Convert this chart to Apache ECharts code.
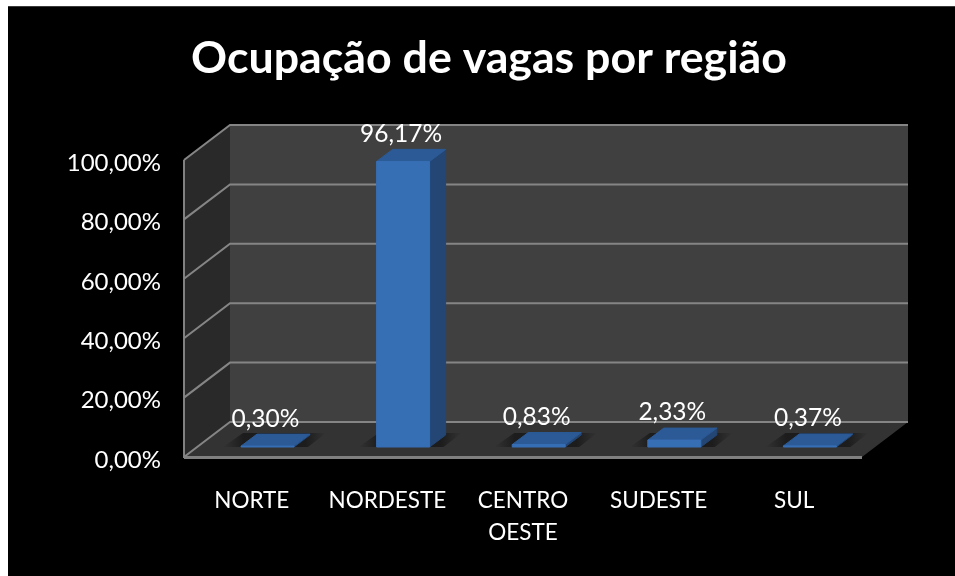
<!DOCTYPE html>
<html><head><meta charset="utf-8">
<style>html,body{margin:0;padding:0;background:#fff;overflow:hidden}
#frame{position:absolute;left:8px;top:6px;right:0;bottom:0;width:947px;height:570px;background:#000;border-top:1px solid #3a3a3a;box-sizing:border-box}
#c{position:absolute;left:0;top:0;width:955px;height:576px}</style>
<script src="https://cdn.jsdelivr.net/npm/echarts@6/dist/echarts.min.js"></script>
</head><body><div id="frame"></div><div id="c"></div>
<script>
const titleText = 'Ocupação de vagas por região';
const categories = ['NORTE', 'NORDESTE', 'CENTRO\nOESTE', 'SUDESTE', 'SUL'];
const values = [0.30, 96.17, 0.83, 2.33, 0.37];
const valueLabels = ['0,30%', '96,17%', '0,83%', '2,33%', '0,37%'];
const yTicks = [0, 20, 40, 60, 80, 100];

const FONT = 'Lato, "Open Sans", sans-serif';
const DEPTH = { x: 46, y: -35 };
const BAR = { dx: 15.7, dy: -10, ox: 16, oy: -12, half: 26.5 };
const poly = (points, fill, extra) => ({ type: 'polygon', shape: { points }, style: Object.assign({ fill }, extra || {}), silent: true });
const facet = (points, fill) => poly(points, fill, { stroke: fill, lineWidth: 1, lineJoin: 'round' });
const shadowFill = new echarts.graphic.LinearGradient(0, 0, 1, 0, [
  { offset: 0, color: 'rgba(26,26,26,0)' },
  { offset: 0.2, color: 'rgba(26,26,26,0.9)' },
  { offset: 0.8, color: 'rgba(26,26,26,0.9)' },
  { offset: 1, color: 'rgba(26,26,26,0)' }
]);

const chart = echarts.init(document.getElementById('c'), null, { renderer: 'canvas' });
chart.setOption({
  backgroundColor: 'transparent',
  animation: false,
  title: { text: titleText, left: 484, top: 31, textAlign: 'center',
    textStyle: { color: '#fff', fontFamily: FONT, fontWeight: 'bold', fontSize: 44.7 } },
  grid: { left: 184, width: 678, top: 160, height: 297, containLabel: false },
  xAxis: { type: 'category', data: categories,
    axisLine: { show: false }, axisTick: { show: false }, splitLine: { show: false },
    axisLabel: { color: '#fff', fontFamily: FONT, fontSize: 22.5, lineHeight: 32, margin: 28, interval: 0 } },
  yAxis: { type: 'value', min: 0, max: 100, interval: 20,
    axisLine: { show: false }, axisTick: { show: false }, splitLine: { show: false },
    axisLabel: { color: '#fff', fontFamily: FONT, fontSize: 24, margin: 23, verticalAlign: 'top', lineHeight: 6,
      formatter: v => v.toFixed(2).replace('.', ',') + '%' } },
  series: [
    { // walls and floor
      type: 'custom', silent: true, z: 1, data: [0], coordinateSystem: 'cartesian2d',
      renderItem(params, api) {
        const a = api.coord([0, 0]), top = api.coord([0, 100]);
        const cs = params.coordSys, L = cs.x, R = cs.x + cs.width, B = a[1], T = top[1];
        const d = DEPTH;
        return { type: 'group', children: [
          poly([[L + d.x, B + d.y], [R + d.x, B + d.y], [R + d.x, T + d.y], [L + d.x, T + d.y]], '#404040'),
          poly([[L, B], [L + d.x, B + d.y], [L + d.x, T + d.y], [L, T]], '#292929'),
          poly([[L, B], [R, B], [R + d.x, B + d.y], [L + d.x, B + d.y]], '#333333'),
          { type: 'rect', shape: { x: L, y: B - 1, width: R - L, height: 3 }, style: { fill: '#808080' }, silent: true },
          { type: 'rect', shape: { x: L - 1, y: T, width: 2, height: B - T + 1 }, style: { fill: '#808080' }, silent: true }
        ] };
      }
    },
    { // gridlines
      type: 'custom', silent: true, z: 2, data: yTicks, coordinateSystem: 'cartesian2d',
      encode: { y: 0 },
      renderItem(params, api) {
        const v = api.value(0);
        const p = api.coord([0, v]);
        const cs = params.coordSys, L = cs.x, R = cs.x + cs.width, d = DEPTH;
        return { type: 'polyline', silent: true,
          shape: { points: [[L, p[1]], [L + d.x, p[1] + d.y], [R + d.x, p[1] + d.y]] },
          style: { stroke: '#858585', lineWidth: 2, fill: null } };
      }
    },
    { // 3D bars
      type: 'custom', z: 3, data: values.map((v, i) => [i, v]), coordinateSystem: 'cartesian2d',
      encode: { x: 0, y: 1 },
      renderItem(params, api) {
        const c = api.coord([api.value(0), api.value(1)]);
        const b = api.coord([api.value(0), 0]);
        const s = BAR, cx = c[0] + s.dx, x0 = cx - s.half, x1 = cx + s.half;
        const yb = b[1] + s.dy, yt = c[1] + s.dy;
        return { type: 'group', children: [
          poly([[x0 - 18, yb], [x1 + 14, yb], [x1 + s.ox + 16, yb + s.oy - 2], [x0 + s.ox - 14, yb + s.oy - 2]], shadowFill),
          facet([[x1, yb], [x1 + s.ox, yb + s.oy], [x1 + s.ox, yt + s.oy], [x1, yt]], '#234675'),
          facet([[x0, yt], [x1, yt], [x1 + s.ox, yt + s.oy], [x0 + s.ox, yt + s.oy]], '#2b5a96'),
          facet([[x0, yb], [x1, yb], [x1, yt], [x0, yt]], '#376fb5')
        ] };
      }
    },
    { // value labels
      type: 'custom', silent: true, z: 4, data: values.map((v, i) => [i, v]), coordinateSystem: 'cartesian2d',
      encode: { x: 0, y: 1 },
      renderItem(params, api) {
        const i = api.value(0);
        const c = api.coord([i, api.value(1)]);
        return { type: 'text', silent: true,
          style: { x: c[0] + BAR.dx - 2, y: c[1] + BAR.dy + BAR.oy - 15.5, text: valueLabels[i],
            fill: '#fff', font: '24.5px ' + FONT, align: 'center', verticalAlign: 'middle' } };
      }
    }
  ]
});
</script></body></html>
